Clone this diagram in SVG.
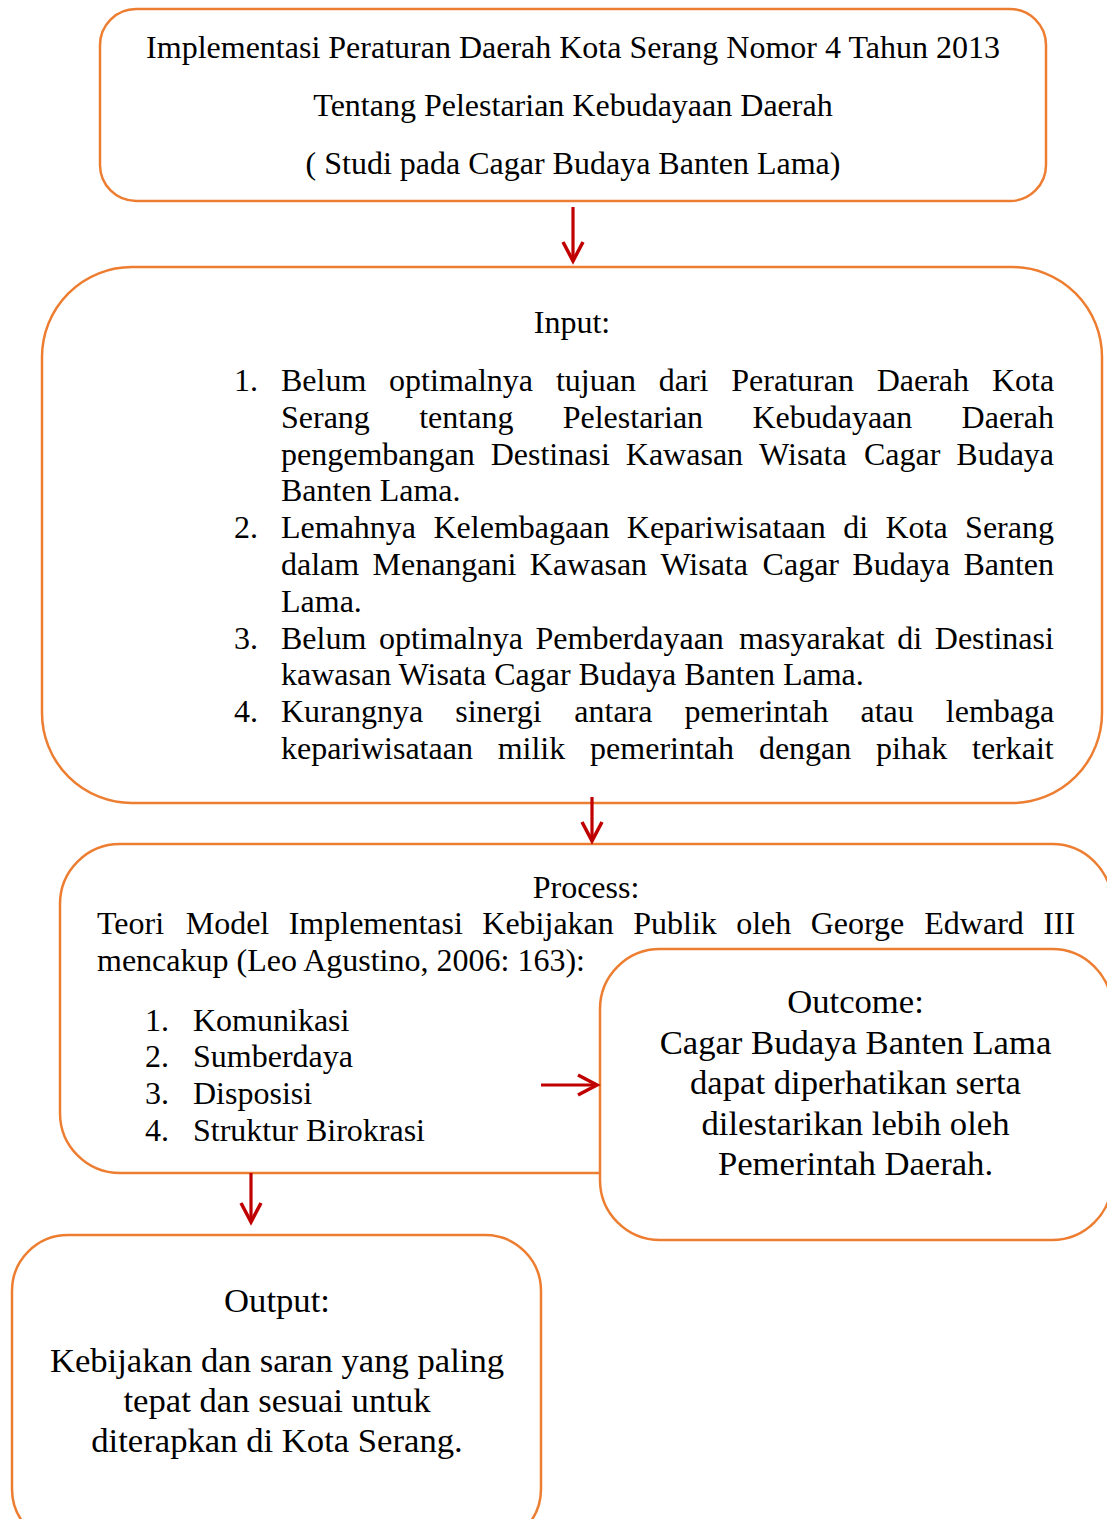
<svg xmlns="http://www.w3.org/2000/svg" width="1107" height="1519" viewBox="0 0 1107 1519">
<style>
.box{fill:#ffffff;stroke:#ED7D31;stroke-width:2.5}
.t{font-family:"Liberation Serif","Times New Roman",serif;font-size:32px;fill:#000}
.tl{font-family:"Liberation Serif","Times New Roman",serif;font-size:34.67px;fill:#000}
.c{text-anchor:middle}
.arr{stroke:#C00000;stroke-width:3.2;fill:none}
</style>
<defs>
<marker id="ah" markerUnits="userSpaceOnUse" markerWidth="26" markerHeight="26" refX="20" refY="10" orient="auto" overflow="visible">
<path d="M1,0 L20,10 L1,20" fill="none" stroke="#C00000" stroke-width="3.5" stroke-linejoin="miter"/>
</marker>
</defs>
<rect width="1107" height="1519" fill="#ffffff"/>

<g id="node-title">
<rect class="box" x="100" y="9" width="946" height="192" rx="36" ry="36"/>
<text class="t c" x="573" y="58">Implementasi Peraturan Daerah Kota Serang Nomor 4 Tahun 2013</text>
<text class="t c" x="573" y="116">Tentang Pelestarian Kebudayaan Daerah</text>
<text class="t c" x="573" y="174">( Studi pada Cagar Budaya Banten Lama)</text>
</g>

<g id="node-input">
<rect class="box" x="42" y="267" width="1060" height="536" rx="90" ry="90"/>
<text class="t c" x="572" y="333">Input:</text>
<text class="t" x="234" y="391">1.</text>
<text class="t" y="391"><tspan x="281">Belum</tspan><tspan x="389.1">optimalnya</tspan><tspan x="555.9">tujuan</tspan><tspan x="658.7">dari</tspan><tspan x="731.3">Peraturan</tspan><tspan x="876.7">Daerah</tspan><tspan x="991.9">Kota</tspan></text>
<text class="t" y="427.8"><tspan x="281">Serang</tspan><tspan x="419.2">tentang</tspan><tspan x="562.7">Pelestarian</tspan><tspan x="752.4">Kebudayaan</tspan><tspan x="961.6">Daerah</tspan></text>
<text class="t" y="464.6"><tspan x="281">pengembangan</tspan><tspan x="490.7">Destinasi</tspan><tspan x="625.8">Kawasan</tspan><tspan x="759.1">Wisata</tspan><tspan x="863.9">Cagar</tspan><tspan x="956.3">Budaya</tspan></text>
<text class="t" x="281" y="501.4">Banten Lama.</text>
<text class="t" x="234" y="538.2">2.</text>
<text class="t" y="538.2"><tspan x="281">Lemahnya</tspan><tspan x="433.5">Kelembagaan</tspan><tspan x="626.8">Kepariwisataan</tspan><tspan x="843.2">di</tspan><tspan x="885.5">Kota</tspan><tspan x="965.1">Serang</tspan></text>
<text class="t" y="575"><tspan x="281">dalam</tspan><tspan x="372.5">Menangani</tspan><tspan x="529.8">Kawasan</tspan><tspan x="660.4">Wisata</tspan><tspan x="762.6">Cagar</tspan><tspan x="852.3">Budaya</tspan><tspan x="963.4">Banten</tspan></text>
<text class="t" x="281" y="611.8">Lama.</text>
<text class="t" x="234" y="648.6">3.</text>
<text class="t" y="648.6"><tspan x="281">Belum</tspan><tspan x="378.9">optimalnya</tspan><tspan x="535.5">Pemberdayaan</tspan><tspan x="739">masyarakat</tspan><tspan x="897.3">di</tspan><tspan x="934.8">Destinasi</tspan></text>
<text class="t" x="281" y="685.4">kawasan Wisata Cagar Budaya Banten Lama.</text>
<text class="t" x="234" y="722.2">4.</text>
<text class="t" y="722.2"><tspan x="281">Kurangnya</tspan><tspan x="455.2">sinergi</tspan><tspan x="574.3">antara</tspan><tspan x="684.5">pemerintah</tspan><tspan x="860.5">atau</tspan><tspan x="945.8">lembaga</tspan></text>
<text class="t" y="759"><tspan x="281">kepariwisataan</tspan><tspan x="497.7">milik</tspan><tspan x="590.1">pemerintah</tspan><tspan x="758.9">dengan</tspan><tspan x="876.1">pihak</tspan><tspan x="972">terkait</tspan></text>
</g>

<g id="node-process">
<rect class="box" x="60" y="844" width="1052" height="329" rx="60" ry="60"/>
<text class="t c" x="586" y="898">Process:</text>
<text class="t" y="934"><tspan x="97">Teori</tspan><tspan x="185.7">Model</tspan><tspan x="288.7">Implementasi</tspan><tspan x="482.3">Kebijakan</tspan><tspan x="633.2">Publik</tspan><tspan x="736.2">oleh</tspan><tspan x="810.7">George</tspan><tspan x="924.3">Edward</tspan><tspan x="1043.2">III</tspan></text>
<text class="t" x="97" y="970.5">mencakup (Leo Agustino, 2006: 163):</text>
<text class="t" x="145" y="1030.7">1.</text><text class="t" x="193" y="1030.7">Komunikasi</text>
<text class="t" x="145" y="1067.4">2.</text><text class="t" x="193" y="1067.4">Sumberdaya</text>
<text class="t" x="145" y="1104">3.</text><text class="t" x="193" y="1104">Disposisi</text>
<text class="t" x="145" y="1140.7">4.</text><text class="t" x="193" y="1140.7">Struktur Birokrasi</text>
</g>

<g id="node-outcome">
<rect class="box" x="600" y="949" width="512" height="291" rx="60" ry="60"/>
<text class="tl c" x="855.5" y="1013.3">Outcome:</text>
<text class="tl c" x="855.5" y="1053.7">Cagar Budaya Banten Lama</text>
<text class="tl c" x="855.5" y="1094.1">dapat diperhatikan serta</text>
<text class="tl c" x="855.5" y="1134.5">dilestarikan lebih oleh</text>
<text class="tl c" x="855.5" y="1175">Pemerintah Daerah.</text>
</g>

<g id="node-output">
<rect class="box" x="12" y="1235" width="529" height="310" rx="56" ry="56"/>
<text class="tl c" x="277" y="1312">Output:</text>
<text class="tl c" x="277" y="1371.7">Kebijakan dan saran yang paling</text>
<text class="tl c" x="277" y="1411.7">tepat dan sesuai untuk</text>
<text class="tl c" x="277" y="1451.7">diterapkan di Kota Serang.</text>
</g>

<g id="connectors">
<line class="arr" x1="573" y1="207" x2="573" y2="261" marker-end="url(#ah)"/>
<line class="arr" x1="592" y1="797" x2="592" y2="841" marker-end="url(#ah)"/>
<line class="arr" x1="541" y1="1085" x2="597" y2="1085" marker-end="url(#ah)"/>
<line class="arr" x1="251" y1="1173" x2="251" y2="1222" marker-end="url(#ah)"/>
</g>
</svg>
